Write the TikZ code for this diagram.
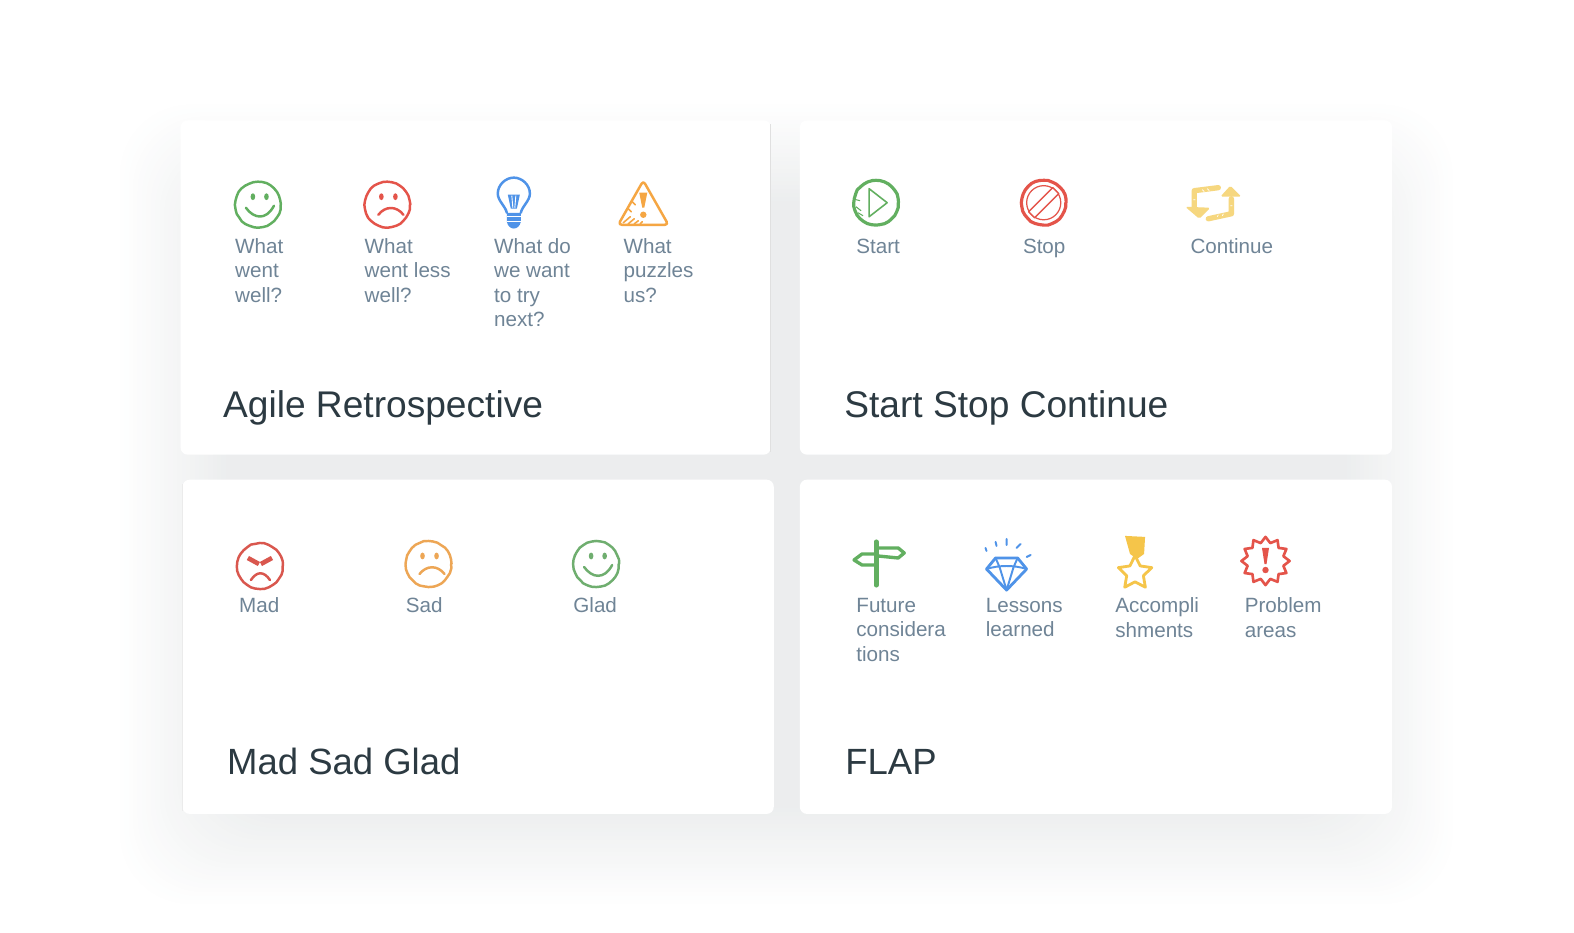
\documentclass[tikz,border=0pt]{standalone}
\usepackage{fontspec}
\setmainfont{Liberation Sans}
\usetikzlibrary{shapes.geometric,decorations.pathmorphing}
\definecolor{labelgrey}{HTML}{6F8496}
\definecolor{titlegrey}{HTML}{2C3A42}
\definecolor{shadowgrey}{HTML}{3A4A50}
\definecolor{goodgreen}{HTML}{62AF60}
\definecolor{badred}{HTML}{E4544A}
\definecolor{ideablue}{HTML}{4F93E8}
\definecolor{warnorange}{HTML}{F5A643}
\definecolor{softyellow}{HTML}{F6D77F}
\definecolor{medalyellow}{HTML}{F5C54A}
\definecolor{madred}{HTML}{D9574E}
\definecolor{sadorange}{HTML}{EDA655}
\definecolor{gladgreen}{HTML}{6FAE6F}
\newcommand{\card}[4]{\fill[white,rounded corners=4pt] (#1,#2) rectangle (#3,#4);}
\tikzset{
  sketch/.style={line width=1.4pt,line cap=round,line join=round},
  thinsketch/.style={line width=.9pt,line cap=round,line join=round},
  rough/.style={decorate,decoration={random steps,segment length=2.5pt,amplitude=.2pt}},
  lbl/.style={anchor=north west,inner sep=0pt,align=left,text=labelgrey,
    font=\fontsize{11.7}{13.94}\selectfont,execute at begin node=\vphantom{hd}},
  ttl/.style={anchor=base west,inner sep=0pt,text=titlegrey,
    font=\fontsize{21.06}{25}\selectfont},
  shortttl/.style={ttl,font=\fontsize{20.7}{25}\selectfont},
  happy/.pic={
    \draw[sketch,rough] (0,0) circle (22.5);
    \fill (-5,-8) ellipse (2.3 and 3.4) (8.5,-8) ellipse (2.3 and 3.4);
    \draw[sketch] (-12,3) .. controls (-4,14) and (8,16) .. (16,1);
  },
  unhappy/.pic={
    \draw[sketch,rough] (0,0) circle (22.5);
    \fill (-6,-8) ellipse (2.3 and 3.4) (8,-8) ellipse (2.3 and 3.4);
    \draw[sketch] (-9,10) .. controls (-2,1) and (9,1) .. (16,10);
  },
  angry/.pic={
    \draw[sketch,rough] (0,0) circle (22.5);
    \draw[line width=2.6pt] (-12,-8) -- (-1,-2) (12,-8) -- (1,-2);
    \draw[sketch] (-9,14) .. controls (-3,5) and (4,5) .. (10,14);
  },
  bulb/.pic={
    \draw[sketch] (-7,9) .. controls (-8,3) and (-16,-3) .. (-16,-10)
      .. controls (-16,-19) and (-8,-26) .. (0,-26)
      .. controls (8,-26) and (16,-19) .. (16,-10)
      .. controls (16,-3) and (8,3) .. (7,9);
    \fill (-7,9) -- (7,9) -- (7,18) .. controls (5,27) and (-5,27) .. (-7,18) -- cycle;
    \draw[white,line width=.7pt] (-7,13) -- (7,13) (-7,18) -- (7,18);
    \fill (-6,-9) -- (6,-9) -- (3,5) -- (-3,5) -- cycle;
    \draw[white,line width=.5pt] (-2,-8) -- (-1,4) (2,-8) -- (1,4);
  },
  warning/.pic={
    \draw[sketch,rounded corners=2pt] (0,-23) -- (25,21) -- (-25,21) -- cycle;
    \fill (-4,-11) -- (4,-11) -- (1,4) -- (-1,4) -- cycle;
    \fill (0,11) circle (3.2);
    \draw[thinsketch] (-20,19) -- (-13,13) (-15,20) -- (-9,15)
      (-9,20) -- (-5,17) (-3,20) -- (-1,18) (-15,5) -- (-12,8) (-11,-2) -- (-8,1);
  },
  play/.pic={
    \draw[sketch,line width=1.8pt,rough] (0,0) circle (22);
    \draw[thinsketch] (-7,-14) -- (11,0) -- (-7,14) -- cycle;
    \draw[line width=.6pt] (-20,4) -- (-15,8) (-18,10) -- (-13,13) (-20,-3) -- (-16,-2);
  },
  nogo/.pic={
    \draw[sketch,line width=1.8pt,rough] (0,0) circle (22);
    \draw[line width=.7pt] (0,0) circle (17);
    \draw[fill=white,line width=.8pt,line join=round]
      (-15,9) -- (9,-15) -- (15,-9) -- (-9,15) -- cycle;
  },
  looping/.pic={
    \draw[line width=3pt,line cap=round,line join=round] (9,-16) -- (-15,-13) -- (-15,4);
    \fill[rounded corners=1pt] (-24,3) -- (-10,15) -- (1,4) -- cycle;
    \draw[line width=3pt,line cap=round,line join=round] (-1,15) -- (22,10) -- (22,-5);
    \fill[rounded corners=1pt] (11,-7) -- (21,-18) -- (32,-7) -- cycle;
    \draw[white,line width=.4pt] (-7,-14) -- (-5,-12) (-2,-15) -- (0,-13) (-16,-4) -- (-14,-4)
      (8,13) -- (9,11) (13,12) -- (14,10) (21,2) -- (23,2);
  },
  signpost/.pic={
    \draw[line width=2.8pt,line cap=round] (0,-21) -- (0,22);
    \draw[sketch,line width=1.9pt] (2,-15) -- (22,-15) -- (28,-10) -- (22,-5) -- (2,-7);
    \draw[sketch,line width=1.9pt] (-2,-9) -- (-14,-9) -- (-22,-3) -- (-14,2) -- (-2,2);
  },
  gem/.pic={
    \draw[sketch,line width=1.6pt] (-11,-14) -- (11,-14) -- (20,-3) -- (0,18) -- (-20,-3) -- cycle;
    \draw[line width=1.1pt,line cap=round,line join=round] (-20,-3) .. controls (-8,-7) and (8,-7) .. (20,-3)
      (-11,-14) -- (-7,-5) -- (0,18) -- (7,-5) -- (11,-14);
    \draw[line width=1.1pt,line cap=round] (-21,-24) -- (-20,-21) (-11,-30) -- (-10,-26)
      (0,-33) -- (0,-27) (14,-28) -- (10,-24) (24,-17) -- (20,-15);
  },
  medal/.pic={
    \fill (-10,-26) -- (10,-25) -- (9,-8) -- (2,-3) -- (-5,-8) -- cycle;
    \node[star,star points=5,star point ratio=2,draw,line width=1.6pt,line join=round,inner sep=0pt,
      minimum size=.7cm] (medalstar) at (0,11) {};
  },
  burst/.pic={
    \node[star,star points=12,star point ratio=1.3,draw,line width=1.5pt,line join=round,inner sep=0pt,
      minimum size=.96cm] (burststar) at (0,0) {};
    \fill (-3.5,-13) -- (3.5,-13) -- (1,3) -- (-1,3) -- cycle;
    \fill (0,9) circle (3.2);
  }
}
\begin{document}
\begin{tikzpicture}[x=.02cm,y=-.02cm]
\useasboundingbox (0,0) rectangle (1568.4,929.6);
%one soft shadow under the whole block of cards
\foreach \t in {0,...,24}
  \fill[shadowgrey,opacity=.0046,rounded corners=40pt]
    (225-4.4*\t,200-4*\t) rectangle (1342+4.4*\t,805+4*\t);
\card{180}{120}{768}{453}
\card{797}{120}{1387}{453}
\card{182}{478}{771}{811}
\card{797}{478}{1387}{811}
\draw[black!12,line width=.6pt] (768,124) -- (768,450);
\draw[black!8,line width=.5pt] (182,482) -- (182,808);
%agile retrospective
\pic[color=goodgreen] (wellicon) at (257,204) {happy};
\pic[color=badred] (lessicon) at (386,204) {unhappy};
\pic[color=ideablue] (tryicon) at (512,203) {bulb};
\pic[color=warnorange] (puzzleicon) at (641,203) {warning};
\node[lbl] (welltext) at (234,237) {What\\went\\well?};
\node[lbl] (lesstext) at (363,237) {What\\went less\\well?};
\node[lbl] (trytext) at (492,237) {What do\\we want\\to try\\next?};
\node[lbl] (puzzletext) at (621,237) {What\\puzzles\\us?};
\node[ttl] (agiletitle) at (222,416) {Agile Retrospective};
%start stop continue
\pic[color=goodgreen] (starticon) at (873,202) {play};
\pic[color=badred] (stopicon) at (1040,202) {nogo};
\pic[color=softyellow] (continueicon) at (1205,203) {looping};
\node[lbl] (starttext) at (853,237) {Start};
\node[lbl] (stoptext) at (1019,237) {Stop};
\node[lbl] (continuetext) at (1186,237) {Continue};
\node[ttl] (ssctitle) at (841,416) {Start Stop Continue};
%mad sad glad
\pic[color=madred] (madicon) at (259,564) {angry};
\pic[color=sadorange] (sadicon) at (427,562) {unhappy};
\pic[color=gladgreen] (gladicon) at (594,562) {happy};
\node[lbl] (madtext) at (238,595.5) {Mad};
\node[lbl] (sadtext) at (404,595.5) {Sad};
\node[lbl] (gladtext) at (571,595.5) {Glad};
\node[shortttl] (msgtitle) at (226,772) {Mad Sad Glad};
%flap
\pic[color=goodgreen] (futureicon) at (873,561) {signpost};
\pic[color=ideablue] (lessonicon) at (1003,570) {gem};
\pic[color=medalyellow] (accompicon) at (1131,560) {medal};
\pic[color=badred] (problemicon) at (1261,559) {burst};
\node[lbl] (futuretext) at (853,595.5) {Future\\considera\\tions};
\node[lbl] (lessontext) at (982,595.5) {Lessons\\learned};
\node[lbl] (accomptext) at (1111,595.5) {Accompli\\shments};
\node[lbl] (problemtext) at (1240,595.5) {Problem\\areas};
\node[shortttl] (flaptitle) at (842,772) {FLAP};
\end{tikzpicture}
\end{document}
